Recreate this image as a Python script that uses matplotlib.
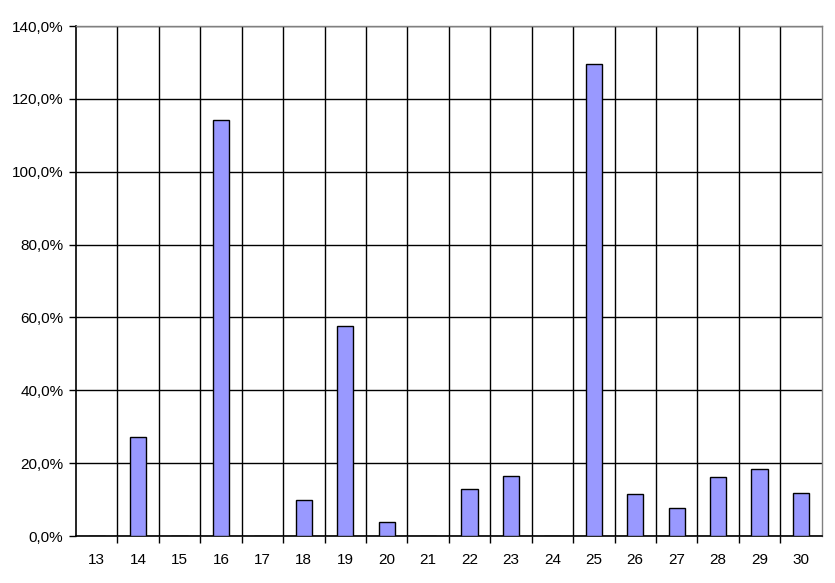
import matplotlib.pyplot as plt
import numpy as np
from matplotlib.ticker import FuncFormatter

plt.rcParams['font.family'] = ['Liberation Sans', 'DejaVu Sans']

# days 13..30 and the share per day (percent); empty days are zero
days = [13, 14, 15, 16, 17, 18, 19, 20, 21, 22, 23, 24, 25, 26, 27, 28, 29, 30]
values = [0, 27.2, 0, 114.2, 0, 9.9, 57.6, 3.8, 0, 12.9, 16.5, 0, 129.6, 11.5, 7.6, 16.1, 18.3, 11.7]

fig = plt.figure(figsize=(8.35, 5.83), dpi=100)
ax = fig.add_axes([0.091, 0.0806, 0.893, 0.8748])

x = np.arange(len(days))
ax.bar(x, values, width=0.39, color='#9999FF', edgecolor='black', linewidth=1.0, zorder=3)

ax.set_xlim(-0.5, len(days) - 0.5)
ax.set_ylim(0, 140)

# boundaries get the ticks and vertical grid, centers get the labels
ax.set_xticks(x[:-1] + 0.5)
ax.set_xticklabels([])
ax.set_xticks(x, minor=True)
ax.set_xticklabels([str(d) for d in days], minor=True)
ax.tick_params(axis='x', which='major', length=5, width=1, color='black', direction='out')
ax.tick_params(axis='x', which='minor', length=0, pad=12, labelsize=11)

ax.set_yticks(np.arange(0, 141, 20))
ax.yaxis.set_major_formatter(FuncFormatter(lambda v, p: f"{v:.1f}%".replace('.', ',')))
ax.tick_params(axis='y', length=5, width=1, color='black', pad=4, labelsize=11)

ax.grid(True, which='major', color='black', linewidth=1.0, zorder=0)

for side in ['left', 'bottom']:
    ax.spines[side].set_color('black')
    ax.spines[side].set_linewidth(1.2)
for side in ['top', 'right']:
    ax.spines[side].set_color('#808080')
    ax.spines[side].set_linewidth(1.0)

fig.savefig('out.png', dpi=100)
